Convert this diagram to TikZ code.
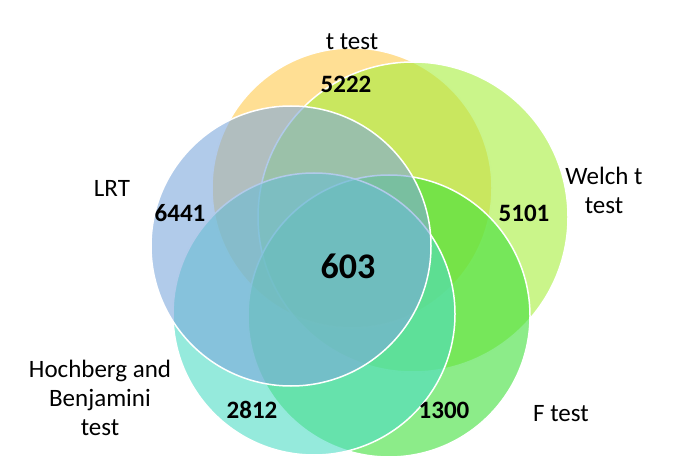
\documentclass[tikz,border=0pt]{standalone}
\usepackage{fontspec}
\setmainfont{Carlito}
\begin{document}
\begin{tikzpicture}[x=1pt,y=-1pt,
    venn/.style={fill=#1,fill opacity=0.6,draw=white,line width=1.5pt},
    lbl/.style={font=\fontsize{25}{29}\selectfont,align=center},
    num/.style={font=\fontsize{25}{29}\selectfont\bfseries}]
  \useasboundingbox (0,0) rectangle (693,462);
  % the five sets
  \definecolor{ttc}{HTML}{FFC94D}
  \definecolor{wtc}{HTML}{A6EE3C}
  \definecolor{ftc}{HTML}{3FE03A}
  \definecolor{hbc}{HTML}{4EDCC4}
  \definecolor{lrc}{HTML}{7DA8DC}
  \path[venn=ttc] (352,188) circle (140);
  \path[venn=wtc] (413,217) circle (155);
  \path[venn=ftc] (389,316) circle (141);
  \path[venn=hbc] (314,314) circle (141);
  \path[venn=lrc] (291,246) circle (140);
  % set names
  \node[lbl] (tt) at (352,42) {t test};
  \node[lbl] (lr) at (112,188) {LRT};
  \node[lbl] (wt) at (604,190) {Welch t\\test};
  \node[lbl] (hb) at (100,398) {Hochberg and\\Benjamini\\test};
  \node[lbl] (ft) at (561,414) {F test};
  % counts
  \node[num] (n1) at (346,84) {5222};
  \node[num] (n2) at (180,213) {6441};
  \node[num] (n3) at (524,213) {5101};
  \node[num] (n4) at (252,410) {2812};
  \node[num] (n5) at (444,410) {1300};
  \node[font=\fontsize{36}{38}\selectfont\bfseries] (n6) at (348,266) {603};
\end{tikzpicture}
\end{document}
